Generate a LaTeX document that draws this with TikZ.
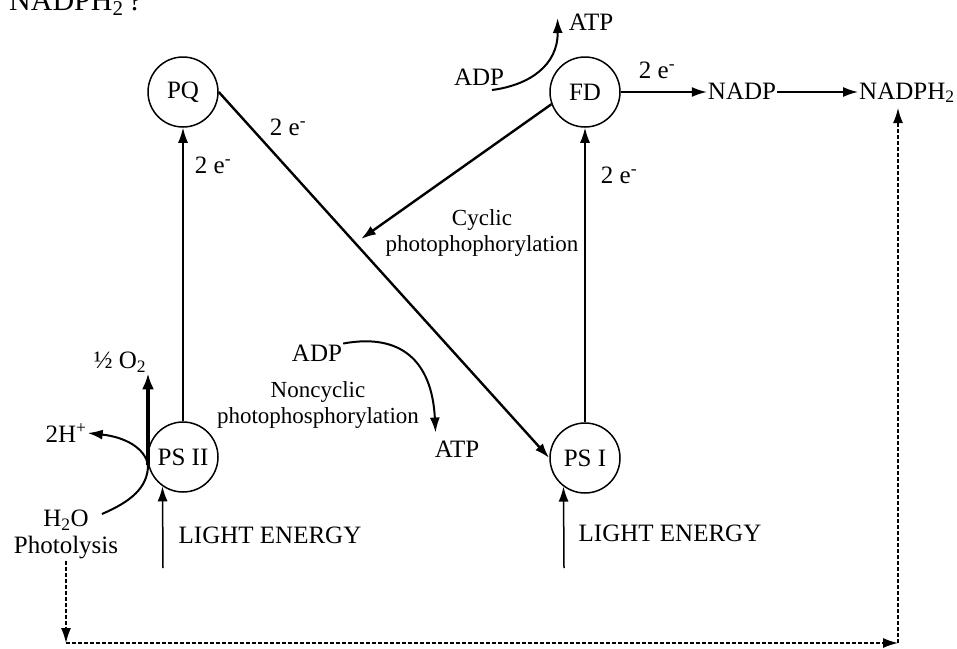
\documentclass[tikz,border=0pt]{standalone}
\usepackage{fontspec}
\setmainfont{Liberation Serif}
\usetikzlibrary{arrows.meta,calc}
\tikzset{
  psnode/.style={draw, circle, line width=1.5pt, minimum size=70pt, inner sep=0pt, font=\fontsize{25}{28}\selectfont},
  txt/.style={inner sep=1pt, font=\fontsize{25}{28}\selectfont},
  smalltxt/.style={inner sep=1pt, align=center, font=\fontsize{23}{26}\selectfont},
  arc/.style={-{Latex[length=15pt,width=10pt]}, line width=1.5pt},
  boldarc/.style={-{Latex[length=15pt,width=10pt]}, line width=2.4pt},
  heavyarc/.style={-{Latex[length=16pt,width=12pt]}, line width=3.6pt},
  curvearc/.style={-{Latex[length=15pt,width=10pt]}, line width=2pt},
  dasharc/.style={-{Latex[length=15pt,width=10pt]}, line width=1.4pt, dash pattern=on 4pt off 2pt}
}

\begin{document}
\begin{tikzpicture}[x=1pt, y=-1pt]
  \useasboundingbox (0,0) rectangle (957,648);
  \clip (0,0) rectangle (957,648);
  \node[txt, anchor=base west, font=\fontsize{30}{34}\selectfont] (head) at (8,10) {NADPH\textsubscript{2}\,?};

  % carriers and photosystems
  \node[psnode] (pq) at (183,92) {PQ};
  \node[psnode] (fd) at (585,92) {FD};
  \node[psnode] (ps2) at (183,457) {PS II};
  \node[psnode] (ps1) at (585,458) {PS I};

  % electron flow
  \draw[arc] (ps2.north) -- (pq.south);
  \node[txt] (e1) at (213,165) {2 e\textsuperscript{-}};
  \draw[boldarc] (pq.east) -- (ps1.west);
  \node[txt] (e2) at (288,127) {2 e\textsuperscript{-}};
  \draw[arc] (ps1.north) -- (fd.south);
  \node[txt] (e3) at (619,175) {2 e\textsuperscript{-}};

  % NADP reduction
  \node[txt, anchor=base] (nadp) at (742,99) {NADP};
  \node[txt, anchor=base west] (nadph) at (858,99) {NADPH\textsubscript{2}};
  \draw[arc] (fd.east) -- (fd.east -| nadp.west);
  \node[txt] (e4) at (657,70) {2 e\textsuperscript{-}};
  \draw[arc] (nadp.east |- fd.east) -- (fd.east -| nadph.west);

  % cyclic
  \coordinate (cyc) at (361,239);
  \draw[boldarc] (fd.200) -- (cyc);
  \node[smalltxt] (cyclbl) at (482,233) {Cyclic\\photophophorylation};
  \node[txt] (adpt) at (479,77) {ADP};
  \node[txt] (atpt) at (591,22) {ATP};
  \draw[curvearc] (492,90) .. controls (530,85) and (558,65) .. ([shift={(-10,-4)}]atpt.west);

  % noncyclic
  \node[txt] (adpb) at (317,353) {ADP};
  \node[txt] (atpb) at (457,449) {ATP};
  \node[smalltxt] (nclbl) at (318,405) {Noncyclic\\photophosphorylation};
  \draw[curvearc] (adpb.north east) .. controls (400,333) and (432,360) .. ([shift={(2,-7)}]atpb.north west);

  % photolysis of water
  \coordinate (split) at (148,465);
  \node[txt] (o2) at (120,362) {½ O\textsubscript{2}};
  \node[txt] (hplus) at (66,433) {2H\textsuperscript{+}};
  \node[txt] (h2o) at (66,520) {H\textsubscript{2}O};
  \node[txt] (photo) at (66,548) {Photolysis};
  \draw[heavyarc] (split) -- (split |- o2.south);
  \draw[curvearc] (split) .. controls (145,448) and (125,437) .. (hplus.east);
  \draw[line width=2pt] ([shift={(12,-6)}]h2o.east) .. controls (130,502) and (148,488) .. (split);

  % light
  \coordinate (l2) at (163,568);
  \coordinate (l1) at (564,568);
  \draw[arc] (l2) -- (ps2.235);
  \draw[arc] (l1) -- (ps1.233);
  \node[txt] (light2) at (270,535) {LIGHT ENERGY};
  \node[txt] (light1) at (670,533) {LIGHT ENERGY};

  % hydrogen to NADP
  \coordinate (bl) at (66,643);
  \coordinate (br) at (898,643);
  \coordinate (top) at (898,108);
  \draw[dasharc] (photo.south) -- (bl);
  \draw[dasharc] (bl) -- (br);
  \draw[dasharc] (br) -- (top);
\end{tikzpicture}
\end{document}
